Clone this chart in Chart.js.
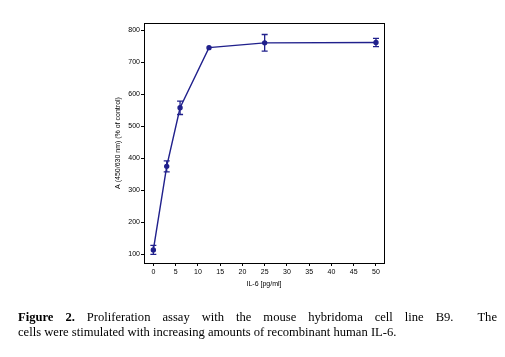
<!DOCTYPE html>
<html>
<head>
<meta charset="utf-8">
<script src="https://cdn.jsdelivr.net/npm/chart.js@4.4.0/dist/chart.umd.min.js"></script>
<style>
html,body{margin:0;padding:0;background:#fff;}
#wrap{position:relative;width:505px;height:357px;overflow:hidden;}
#c{position:absolute;left:0;top:0;}
.cap{position:absolute;left:18px;width:479px;font-family:"Liberation Serif","Times New Roman",serif;font-size:12.6px;line-height:15px;color:#000;white-space:nowrap;}
#l1{top:310px;text-align:justify;text-align-last:justify;white-space:normal;}
#l2{top:325px;}
</style>
</head>
<body>
<div id="wrap">
<canvas id="c" width="505" height="357"></canvas>
<div class="cap" id="l1"><b>Figure 2.</b> Proliferation assay with the mouse hybridoma cell line B9. &nbsp;The</div>
<div class="cap" id="l2">cells were stimulated with increasing amounts of recombinant human IL-6.</div>
</div>
<script>
const doses = [0, 3, 6, 12.5, 25, 50];
const means = [113, 374, 557, 745, 760, 761];
const errors = [14, 17, 21, 3, 26, 13];
const xTicks = [0, 5, 10, 15, 20, 25, 30, 35, 40, 45, 50];
const yTicks = [100, 200, 300, 400, 500, 600, 700, 800];
const xTitle = 'IL-6 [pg/ml]';
const yTitle = 'A (450/630 nm) (% of control)';

const navy = '#20208c';

const errorBars = {
  id: 'errorBars',
  afterDatasetsDraw(chart) {
    const {ctx, scales: {x, y}} = chart;
    ctx.save();
    ctx.strokeStyle = navy;
    ctx.lineWidth = 1.3;
    doses.forEach((d, i) => {
      if (errors[i] < 5) return;
      const px = x.getPixelForValue(d);
      const top = y.getPixelForValue(means[i] + errors[i]);
      const bot = y.getPixelForValue(means[i] - errors[i]);
      ctx.beginPath();
      ctx.moveTo(px, top); ctx.lineTo(px, bot);
      ctx.moveTo(px - 3, top); ctx.lineTo(px + 3, top);
      ctx.moveTo(px - 3, bot); ctx.lineTo(px + 3, bot);
      ctx.stroke();
    });
    ctx.restore();
  }
};
const frame = {
  id: 'frame',
  afterDraw(chart) {
    const {ctx, chartArea: a} = chart;
    ctx.save();
    ctx.strokeStyle = '#000';
    ctx.lineWidth = 1;
    ctx.strokeRect(Math.round(a.left) + 0.5, Math.round(a.top) + 0.5, Math.round(a.right - a.left), Math.round(a.bottom - a.top));
    ctx.restore();
  }
};

const tickFont = {family: '"Liberation Sans", Arial, sans-serif', size: 7};

new Chart(document.getElementById('c'), {
  type: 'scatter',
  data: {
    datasets: [{
      data: doses.map((d, i) => ({x: d, y: means[i]})),
      showLine: true,
      borderColor: navy,
      backgroundColor: navy,
      borderWidth: 1.4,
      pointRadius: 2,
      pointHoverRadius: 2,
      tension: 0
    }]
  },
  options: {
    responsive: false,
    animation: false,
    events: [],
    layout: {padding: {left: 104, right: 121, top: 23, bottom: 64}},
    plugins: {legend: {display: false}, tooltip: {enabled: false}},
    scales: {
      x: {
        type: 'linear',
        min: -2.1, max: 51.8,
        afterBuildTicks: s => { s.ticks = xTicks.map(v => ({value: v})); },
        afterFit: s => { s.height = 30; },
        grid: {drawOnChartArea: false, drawTicks: true, tickLength: 3, color: '#000'},
        border: {color: '#000'},
        ticks: {color: '#000', font: tickFont, padding: 2, maxRotation: 0, autoSkip: false},
        title: {display: true, text: xTitle, color: '#000', font: tickFont, padding: {top: 0, bottom: 5}}
      },
      y: {
        type: 'linear',
        min: 72, max: 822,
        afterBuildTicks: s => { s.ticks = yTicks.map(v => ({value: v})); },
        afterFit: s => { s.width = 40; },
        grid: {drawOnChartArea: false, drawTicks: true, tickLength: 3, color: '#000'},
        border: {color: '#000'},
        ticks: {color: '#000', font: tickFont, padding: 1, autoSkip: false},
        title: {display: true, text: yTitle, color: '#000', font: tickFont, padding: {top: 10, bottom: 0}}
      }
    }
  },
  plugins: [errorBars, frame]
});
</script>
</body>
</html>
